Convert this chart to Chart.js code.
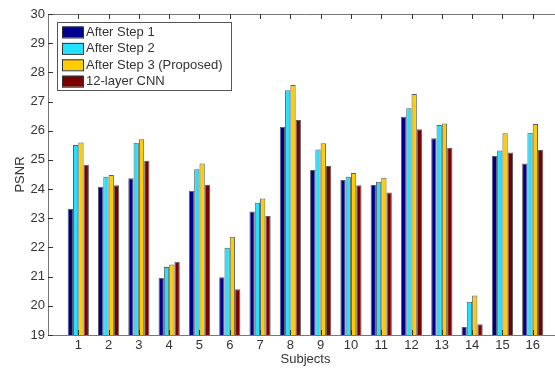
<!DOCTYPE html>
<html>
<head>
<meta charset="utf-8">
<script src="https://cdn.jsdelivr.net/npm/chart.js@4/dist/chart.umd.min.js"></script>
<style>
  html, body { margin: 0; padding: 0; background: #fff; overflow: hidden; }
  #wrap { width: 600px; height: 371px; position: relative; }
</style>
</head>
<body>
<div id="wrap"><canvas id="psnrChart"></canvas></div>
<script>
const subjects = ['1','2','3','4','5','6','7','8','9','10','11','12','13','14','15','16'];
const yTicks = [19, 20, 21, 22, 23, 24, 25, 26, 27, 28, 29, 30];

const afterStep1 = [23.32, 24.08, 24.37, 20.96, 23.94, 20.98, 23.23, 26.14, 24.65, 24.31, 24.14, 26.48, 25.74, 19.27, 25.13, 24.88];
const afterStep2 = [25.51, 24.42, 25.59, 21.33, 24.68, 21.99, 23.53, 27.39, 25.36, 24.42, 24.25, 26.77, 26.20, 20.14, 25.32, 25.93];
const afterStep3 = [25.60, 24.48, 25.71, 21.42, 24.88, 22.37, 23.68, 27.57, 25.57, 24.55, 24.39, 27.26, 26.25, 20.35, 25.91, 26.23];
const cnn12 = [24.83, 24.13, 24.97, 21.51, 24.15, 20.57, 23.08, 26.37, 24.79, 24.13, 23.88, 26.05, 25.42, 19.37, 25.25, 25.34];

const seriesNames = ['After Step 1', 'After Step 2', 'After Step 3 (Proposed)', '12-layer CNN'];
const seriesColors = ['#00008c', '#22e2ff', '#ffcc00', '#7a0000'];

// matlab axis runs 0..17, so pad an empty slot on each end
const labels = [''].concat(subjects, ['']);
function pad(arr) { return [null].concat(arr, [null]); }

const allSeries = [afterStep1, afterStep2, afterStep3, cnn12];
const datasets = allSeries.map(function (arr, i) {
  return {
    label: seriesNames[i],
    data: pad(arr),
    backgroundColor: seriesColors[i],
    borderColor: 'rgba(40,40,40,0.75)',
    borderWidth: 1,
    categoryPercentage: 0.7,
    barPercentage: 1.0
  };
});

const fontFam = '"Liberation Sans", Arial, sans-serif';

// inward ticks + top edge, matlab style
const boxTicks = {
  id: 'boxTicks',
  afterDatasetsDraw(chart) {
    const ctx = chart.ctx;
    const a = chart.chartArea;
    const xs = chart.scales.x, ys = chart.scales.y;
    ctx.save();
    ctx.strokeStyle = '#777';
    ctx.lineWidth = 1;
    ctx.beginPath();
    ctx.moveTo(a.left, a.top + 0.5);
    ctx.lineTo(a.right, a.top + 0.5);
    ctx.stroke();
    ctx.strokeStyle = '#333';
    ctx.beginPath();
    yTicks.forEach(function (v) {
      const y = Math.round(ys.getPixelForValue(v)) + 0.5;
      ctx.moveTo(a.left, y); ctx.lineTo(a.left + 5, y);
    });
    subjects.forEach(function (s, i) {
      const x = Math.round(xs.getPixelForValue(i + 1)) + 0.5;
      ctx.moveTo(x, a.top); ctx.lineTo(x, a.top + 5);
      ctx.moveTo(x, a.bottom); ctx.lineTo(x, a.bottom - 5);
    });
    ctx.stroke();

    // legend box
    const lx = a.left + 9, ly = a.top + 8, lw = 174, lh = 68;
    ctx.fillStyle = '#fff';
    ctx.fillRect(lx, ly, lw, lh);
    ctx.strokeStyle = '#555';
    ctx.strokeRect(lx + 0.5, ly + 0.5, lw, lh);
    ctx.font = '13px ' + fontFam;
    ctx.textBaseline = 'middle';
    chart.data.datasets.forEach(function (ds, i) {
      const cy = ly + 10 + i * 16.4;
      ctx.fillStyle = ds.backgroundColor;
      ctx.fillRect(lx + 5, cy - 5.5, 21, 11);
      ctx.strokeStyle = '#333';
      ctx.strokeRect(lx + 5.5, cy - 5, 21, 11);
      ctx.fillStyle = '#333';
      ctx.fillText(ds.label, lx + 29, cy + 0.5);
    });
    ctx.restore();
  }
};

new Chart(document.getElementById('psnrChart'), {
  type: 'bar',
  data: { labels: labels, datasets: datasets },
  options: {
    responsive: true,
    maintainAspectRatio: false,
    animation: false,
    layout: { padding: { top: 14, right: 37, left: 0, bottom: 0 } },
    plugins: { legend: { display: false }, tooltip: { enabled: false } },
    scales: {
      x: {
        offset: false,
        grid: { display: true, drawOnChartArea: false, drawTicks: false },
        border: { display: true, color: '#777' },
        ticks: { color: '#333', font: { size: 13, family: fontFam }, padding: 3, maxRotation: 0, autoSkip: false },
        title: { display: true, text: 'Subjects', color: '#333', font: { size: 13, family: fontFam }, padding: { top: 0, bottom: 4 } },
        afterFit: function (s) { s.height = 36; }
      },
      y: {
        min: 19,
        max: 30,
        grid: { display: true, drawOnChartArea: false, drawTicks: false },
        border: { display: true, color: '#777' },
        ticks: { stepSize: 1, color: '#333', font: { size: 13, family: fontFam }, padding: 3 },
        title: { display: true, text: 'PSNR', color: '#333', font: { size: 13, family: fontFam }, padding: { top: 13, bottom: 0 } },
        afterFit: function (s) { s.width = 48; }
      }
    }
  },
  plugins: [boxTicks]
});
</script>
</body>
</html>
